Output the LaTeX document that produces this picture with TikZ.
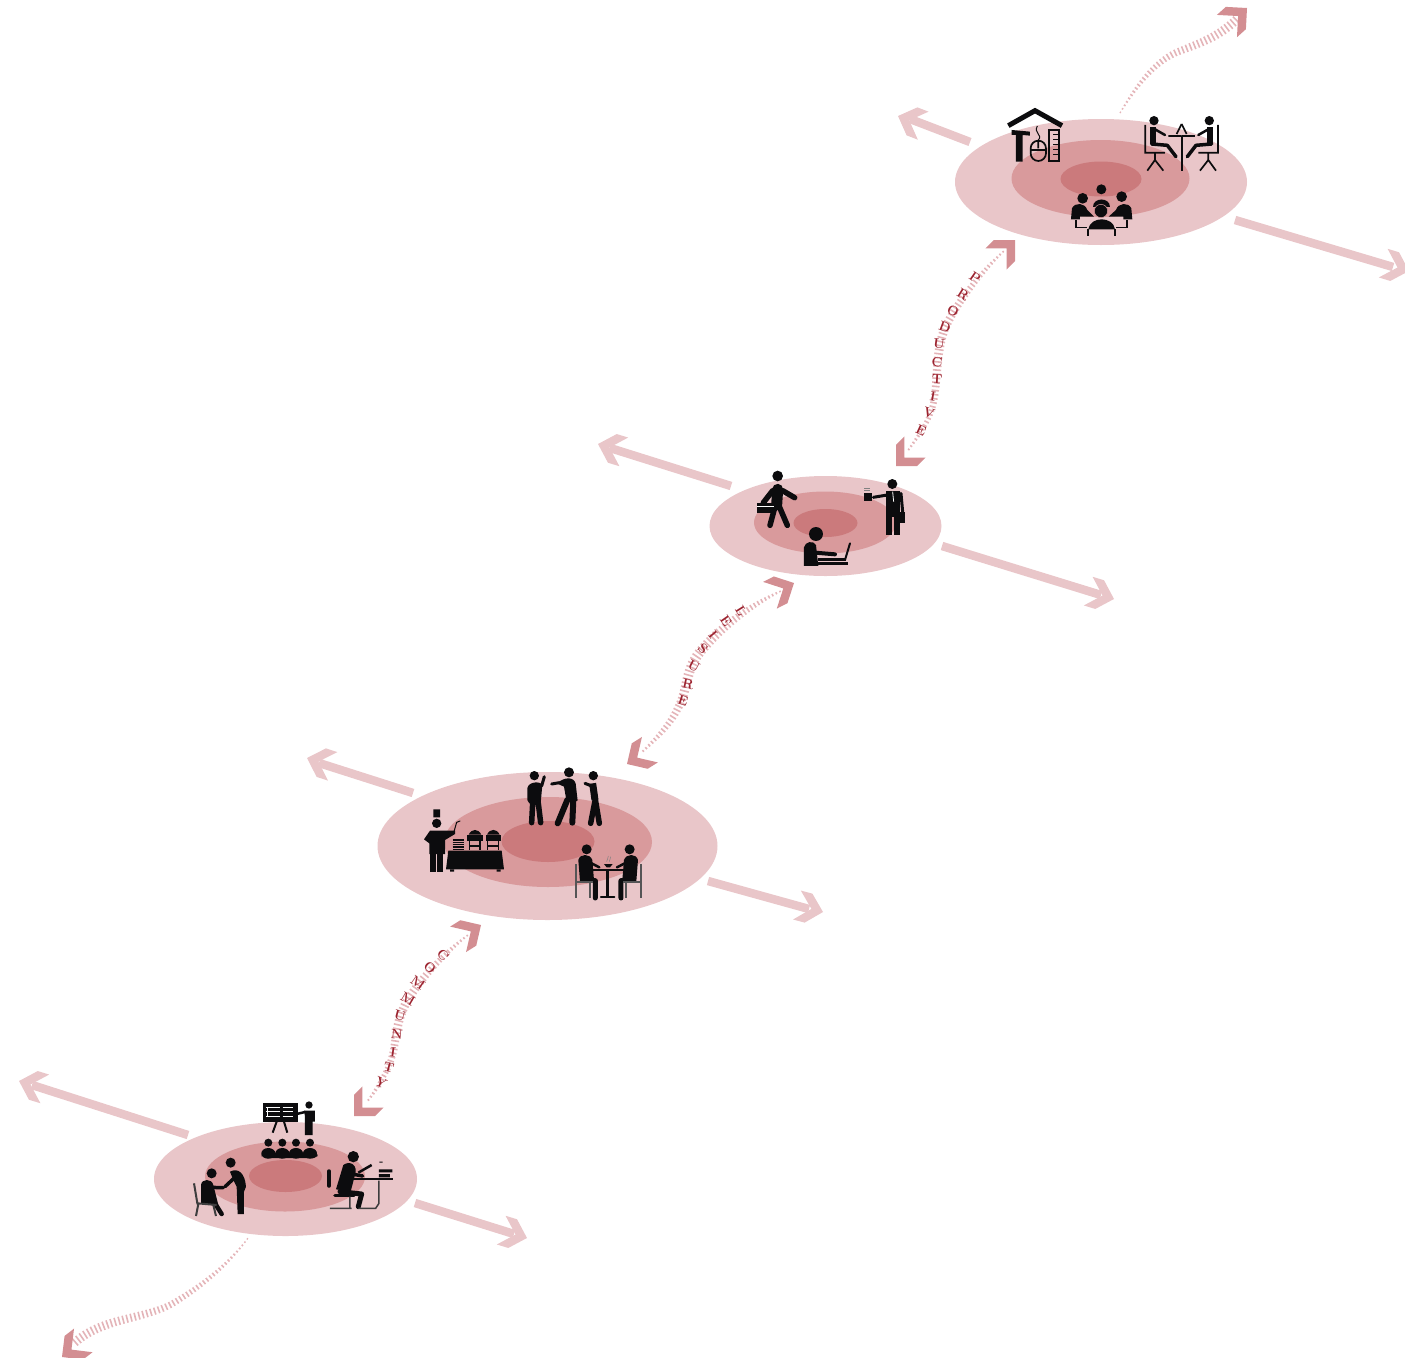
\documentclass[tikz,border=0pt]{standalone}
\usetikzlibrary{decorations.markings}
\definecolor{paleRose}{HTML}{E9C6C9}
\definecolor{midRose}{HTML}{D99A9C}
\definecolor{deepRose}{HTML}{CB7A7C}
\definecolor{headRose}{HTML}{D38E92}
\definecolor{tickRose}{HTML}{E4B4B8}
\definecolor{wordRed}{HTML}{9C2430}
\definecolor{ink}{HTML}{0C0C0E}
\tikzset{
  pics/chevron/.style={code={\fill[#1] (0,0) -- (-15,15) -- (-27,15) -- (-12,0) -- (-27,-15) -- (-15,-15) -- cycle;}},
  pics/chevron/.default=paleRose,
  flatarrow/.style={draw=paleRose, line width=8.5pt},
  tickway/.style={decorate, decoration={markings, mark=between positions 0.005 and 0.995 step 4.1pt with {
      \pgfmathsetmacro\wayfrac{\pgfkeysvalueof{/pgf/decoration/mark info/distance from start}/\pgfdecoratedpathlength}
      \pgfmathsetmacro\thalf{#1}
      \draw[tickRose, line width=1.6pt] (0,-\thalf) -- (0,\thalf);}}},
  wayletter/.style={text=wordRed, font=\fontsize{13.5}{13.5}\selectfont\bfseries, inner sep=0pt},
  crop/.style 2 args={shift={(#1,#2)}, x=.3333pt, y=-.3333pt},
  limb/.style={ink, line width=#1, line cap=round, line join=round},
  limb/.default=5pt,
  thinline/.style={ink, line width=#1, line join=miter},
  thinline/.default=1.3pt,
  whitecut/.style={white, line width=.8pt}
}

\begin{document}
\begin{tikzpicture}[x=1pt,y=-1pt]
\useasboundingbox (0,0) rectangle (1405,1357);

% rings
\foreach \cx/\cy/\rx/\ry in {1101/182/146/63,825.5/526/116/50,547.5/846/170/74,285.5/1179/131.5/57}
  \fill[paleRose] (\cx,\cy) ellipse [x radius=\rx, y radius=\ry];
\foreach \cx/\cy/\rx/\ry in {1100.5/178.5/89/38.5,825/522.5/71/31,548/842/104/45,285/1176.5/80/35}
  \fill[midRose] (\cx,\cy) ellipse [x radius=\rx, y radius=\ry];
\foreach \cx/\cy/\rx/\ry in {1101/179/40.5/17.5,825.5/523/32/14,548/841.5/46.5/20.5,285.5/1176/36.5/16}
  \fill[deepRose] (\cx,\cy) ellipse [x radius=\rx, y radius=\ry];

% flat arrows out of the rings
\foreach \sx/\sy/\ex/\ey/\nam in {
  970/142/910/119/a,1235/220/1393/267/b,
  731/486/610/448/c,942/546/1101/595/d,
  413/793/319/763/e,708/881/809/909/f,
  188/1135/32/1085/g,415/1203/514/1234/h}{
  \coordinate (s\nam) at (\sx,\sy);
  \coordinate (e\nam) at (\ex,\ey);
  \draw[flatarrow] (s\nam) -- (e\nam);
}
\foreach \tx/\ty/\rot in {898/116/159,1409/271/-17,598/444/163,1114/599/-17,307/758/162,823/912/-15,19/1081/163,527/1238/-17}
  \pic[rotate=\rot] at (\tx,\ty) {chevron};

% wavy ways
\coordinate (way1a) at (1120,113);   \coordinate (way1b) at (1238,18);
\coordinate (way2a) at (1004,251);   \coordinate (way2b) at (907,452);
\coordinate (way3a) at (781,591);    \coordinate (way3b) at (640,754);
\coordinate (way4a) at (468,935);    \coordinate (way4b) at (366,1103);
\coordinate (way5a) at (248,1238);   \coordinate (way5b) at (72,1345);
\path[tickway={.6+3.9*sin(90*\wayfrac)}] (way1a) .. controls (1135,88) and (1155,60) .. (1180,51) .. controls (1197,44) and (1218,38) .. (way1b);
\path[tickway={.8+3.6*sin(180*\wayfrac)}] (way2a) .. controls (985,268) and (958,300) .. (945,328) .. controls (936,350) and (938,375) .. (934,400) .. controls (931,420) and (918,436) .. (way2b);
\path[tickway={.8+4.2*sin(180*\wayfrac)}] (way3a) .. controls (755,603) and (722,625) .. (700,652) .. controls (685,670) and (688,690) .. (678,708) .. controls (670,725) and (655,740) .. (way3b);
\path[tickway={.8+3.6*sin(180*\wayfrac)}] (way4a) .. controls (448,950) and (418,980) .. (405,1005) .. controls (393,1030) and (398,1045) .. (388,1068) .. controls (382,1080) and (375,1092) .. (way4b);
\path[tickway={.6+3.9*sin(90*\wayfrac)}] (way5a) .. controls (232,1260) and (205,1285) .. (170,1305) .. controls (140,1320) and (100,1318) .. (way5b);

\foreach \tx/\ty/\rot in {1247/8/42,1015/240/45,896/466/225,794/583/27,627/764/212,481/925/32,354/1116/225,62/1357/218}
  \pic[rotate=\rot] at (\tx,\ty) {chevron=headRose};

% words on the ways
\foreach \l/\x/\y/\a [count=\i] in {P/975/278/-35,R/963/295/-32,O/953/311/-27,D/945/327/-20,U/939/344/-8,C/937/362/-3,T/937/379/-3,I/933/396/-10,V/929/413/-18,E/921/430/-25}
  \node[wayletter, rotate=\a] (prod\i) at (\x,\y) {\l};
\foreach \l/\x/\y/\a [count=\i] in {L/741/611/-58,E/726/621/-55,I/713/635/-50,S/703/649/-40,U/694/666/-28,R/688/684/-12,E/683/701/-18}
  \node[wayletter, rotate=\a] (leis\i) at (\x,\y) {\l};
\foreach \l/\x/\y/\a [count=\i] in {C/443/955/-45,O/430/968/-40,M/418/983/-35,M/408/999/-30,U/400/1016/-15,N/397/1034/-5,I/393/1052/-8,T/389/1067/-15,Y/381/1083/-25}
  \node[wayletter, rotate=\a] (comm\i) at (\x,\y) {\l};

% top ring icons
\begin{scope}[crop={880}{0}]
  \draw[limb=5pt, line cap=butt, line join=miter] (385,377) -- (465,332) -- (546,377);
  \fill[ink] (395,390) -- (450,395) -- (450,407) -- (428,405) -- (428,485) -- (408,485) -- (408,405) -- (395,405) -- cycle;
  \draw[thinline=1.7pt] (452,445) arc[start angle=180, end angle=360, radius=23] -- (498,460) arc[start angle=0, end angle=180, radius=23] -- cycle (475,422) -- (475,445) (452,450) -- (498,450);
  \draw[thinline=1pt] (475,420) .. controls (490,405) and (460,400) .. (472,378);
  \draw[thinline=2pt] (508,390) rectangle (537,484);
  \foreach \k in {405,420,...,470} \draw[thinline=1pt] (520,\k) -- (537,\k);
  \foreach \flip/\sh in {1/0,-1/1810}{
    \begin{scope}[shift={(\sh,0)}, xscale=\flip]
      \fill[ink] (822,362) circle (14);
      \draw[limb=6pt, line cap=butt] (820,382) -- (820,432);
      \draw[limb=2.5pt] (825,388) -- (855,405);
      \draw[limb=3.5pt] (815,432) -- (862,436) -- (888,470);
      \draw[thinline=1.7pt] (796,375) -- (796,458) -- (855,458) (825,458) -- (825,480) -- (802,512) (825,480) -- (850,512);
      \draw[thinline=1.7pt] (865,408) -- (905,408) (890,402) -- (905,372);
    \end{scope}
  }
  \draw[thinline=1.7pt] (905,408) -- (905,512);
  % meeting
  \fill[ink] (664,568) circle (15) (608,595) circle (16) (725,590) circle (16);
  \fill[ink] (640,620) .. controls (640,590) and (690,590) .. (690,620) -- cycle;
  \fill[ink] (573,658) -- (576,625) .. controls (585,606) and (615,608) .. (622,630) -- (642,650) -- (600,650) -- (600,658) -- cycle;
  \fill[ink] (757,658) -- (754,625) .. controls (745,606) and (715,608) .. (708,630) -- (686,650) -- (730,650) -- (730,658) -- cycle;
  \draw[midRose, line width=.5pt, fill=ink] (663,633) circle (20);
  \fill[ink] (625,688) .. controls (630,648) and (700,648) .. (705,688) -- cycle;
  \draw[thinline=1.7pt] (625,688) -- (625,707) (705,688) -- (705,707) (588,660) -- (588,683) -- (622,683) (740,660) -- (740,683) -- (708,683);
\end{scope}

% walk ring icons
\begin{scope}[crop={700}{460}]
  \fill[ink] (233,48) circle (16);
  \draw[limb=11pt] (233,88) -- (230,135);
  \draw[limb=5.5pt] (225,140) -- (210,196) (238,140) -- (262,196) (248,92) -- (284,113) (218,92) -- (190,128);
  \fill[ink] (170,128) rectangle (222,160);
  \draw[whitecut] (170,138) -- (222,138);
  \fill[ink] (577,72) circle (15);
  \fill[ink] (558,92) rectangle (600,170);
  \draw[limb=6pt, line cap=butt] (568,165) -- (568,225) (590,165) -- (590,225);
  \draw[limb=3pt] (562,105) -- (520,112);
  \draw[limb=3pt] (603,100) -- (608,155);
  \fill[ink] (492,98) rectangle (515,122);
  \fill[ink] (598,155) rectangle (614,188);
  \draw[whitecut] (578,95) -- (581,125);
  \draw[thinline=.5pt, gray] (493,84) -- (510,84) (493,90) -- (510,90);
  \fill[ink] (348,222) circle (21);
  \fill[ink] (312,318) -- (312,262) .. controls (315,245) and (340,240) .. (348,255) -- (355,318) -- cycle;
  \draw[limb=4pt] (345,278) -- (405,283);
  \draw[limb=3.5pt, line cap=butt] (355,298) -- (438,298);
  \draw[limb=3pt, line cap=butt] (355,310) -- (445,310);
  \draw[limb=2pt] (435,300) -- (450,250);
\end{scope}

% food ring icons
\begin{scope}[crop={410}{760}]
  \fill[ink] (373,47) circle (14) (477,37) circle (15) (550,47) circle (14);
  \fill[ink] (352,120) -- (352,85) .. controls (355,65) and (390,62) .. (397,75) -- (392,130) -- (358,130) -- cycle;
  \draw[limb=5.5pt] (368,130) -- (365,188) (385,130) -- (392,188);
  \draw[limb=3pt] (395,78) -- (403,50);
  \fill[ink] (440,70) .. controls (465,50) and (490,50) .. (497,70) -- (503,122) -- (470,125) -- (462,80) -- cycle;
  \draw[limb=6pt] (472,120) -- (443,190) (490,120) -- (487,188);
  \draw[limb=3pt] (448,68) -- (425,72);
  \draw[limb=7pt, line cap=butt] (548,70) -- (555,120);
  \draw[limb=5.5pt] (556,118) -- (542,190) (556,118) -- (568,190);
  \draw[limb=3pt] (545,78) -- (525,70);
  % chef
  \fill[ink] (70,148) rectangle (90,172) (80,190) circle (14);
  \fill[ink] (42,238) -- (60,212) -- (102,212) -- (135,212) -- (135,222) -- (105,240) -- (105,282) -- (58,282) -- (58,250) -- cycle;
  \draw[limb=6pt, line cap=butt] (70,278) -- (70,335) (90,278) -- (90,335);
  \draw[limb=1pt] (132,215) -- (140,187) -- (150,183);
  \fill[ink] (115,272) -- (275,272) -- (282,328) -- (108,328) -- cycle;
  \fill[ink] (120,328) rectangle (132,335) (260,328) rectangle (272,335);
  \foreach \k in {240,247,...,268} \draw[limb=1.3pt, line cap=butt] (128,\k) -- (163,\k);
  \foreach \dx in {0,55}{
    \fill[ink] (172+\dx,225) rectangle (218+\dx,242);
    \fill[ink] (176+\dx,224) .. controls (185+\dx,205) and (205+\dx,205) .. (214+\dx,224) -- cycle;
    \draw[limb=1.3pt, line cap=butt] (178+\dx,242) -- (178+\dx,270) (210+\dx,242) -- (210+\dx,270) (178+\dx,258) -- (210+\dx,258);
  }
  % diners
  \foreach \flip/\sh in {1/0,-1/1189}{
    \begin{scope}[shift={(\sh,0)}, xscale=\flip]
      \fill[ink] (530,268) circle (15);
      \fill[ink] (505,300) .. controls (510,280) and (540,280) .. (547,300) -- (552,360) -- (510,364) -- cycle;
      \draw[limb=5pt] (518,358) -- (556,362) -- (556,414);
      \draw[limb=2.5pt] (535,305) -- (568,322);
      \draw[thinline=2pt, ink!70] (497,312) -- (497,415) (497,365) -- (550,365) (540,365) -- (540,415);
    \end{scope}
  }
  \draw[limb=2.5pt, line cap=butt] (545,330) -- (640,330);
  \draw[limb=2.5pt, line cap=butt] (592,330) -- (592,408);
  \draw[limb=2pt] (573,411) -- (613,411);
  \fill[ink] (582,312) -- (608,312) -- (600,322) -- (590,322) -- cycle;
  \draw[thinline=.5pt, gray] (590,305) .. controls (598,298) and (588,295) .. (595,288) (598,305) .. controls (605,298) and (596,295) .. (602,290);
\end{scope}

% class ring icons
\begin{scope}[crop={180}{1090}]
  \fill[ink] (248,38) rectangle (355,95);
  \draw[white, line width=1pt] (262,52) -- (262,78) (258,52) -- (300,52) (258,65) -- (300,65) (258,78) -- (300,78) (308,52) -- (340,52) (308,65) -- (340,65) (308,78) -- (340,78);
  \draw[limb=2pt, line cap=butt] (290,95) -- (278,128) (312,95) -- (322,128);
  \fill[ink] (387,45) circle (11);
  \fill[ink] (372,62) -- (405,62) -- (405,95) -- (398,95) -- (398,135) -- (375,135) -- (375,80) -- cycle;
  \draw[limb=2.5pt] (375,66) -- (350,72);
  \foreach \hx in {265,307,348,390}{
    \fill[ink] (\hx,158) circle (12);
    \fill[ink] (\hx,190) ellipse [x radius=21, y radius=16];
  }
  \fill[ink, rounded corners=4pt] (245,204) -- (245,188) -- (413,188) -- (413,204) -- cycle;
  % handshake
  \fill[ink] (95,250) circle (15) (152,218) circle (15);
  \fill[ink] (63,340) -- (63,285) .. controls (65,265) and (95,265) .. (100,285) -- (115,345) -- cycle;
  \draw[limb=3.5pt] (85,292) -- (130,293);
  \draw[limb=4.5pt] (108,345) -- (125,372);
  \draw[thinline=2pt, ink!80] (42,280) -- (52,340) -- (110,345) (55,342) -- (48,378) (100,345) -- (108,378);
  \fill[ink] (150,245) .. controls (175,232) and (195,250) .. (198,290) -- (192,305) -- (192,372) -- (173,372) -- (170,290) -- (160,270) -- cycle;
  \draw[limb=3.5pt] (165,262) -- (135,290);
  % reading at a desk
  \fill[ink] (520,200) circle (17);
  \fill[ink] (490,225) .. controls (510,210) and (535,225) .. (525,255) -- (512,305) -- (468,298) -- cycle;
  \draw[limb=5pt] (480,305) -- (545,312) -- (535,350);
  \draw[limb=3.5pt] (505,250) -- (548,258);
  \draw[limb=3.5pt] (447,243) -- (447,288);
  \draw[limb=3.5pt] (465,316) -- (522,316);
  \draw[limb=2.5pt, line cap=butt] (535,248) -- (575,225);
  \draw[limb=2.3pt, line cap=butt] (520,268) -- (638,268);
  \fill[ink] (597,238) rectangle (637,247) (597,252) rectangle (630,262) (598,215) rectangle (608,218);
  \draw[thinline=1.5pt, ink!80] (597,272) -- (597,340) -- (587,355) -- (535,355) (450,355) -- (515,355) (510,320) -- (510,355);
\end{scope}
\end{tikzpicture}
\end{document}
